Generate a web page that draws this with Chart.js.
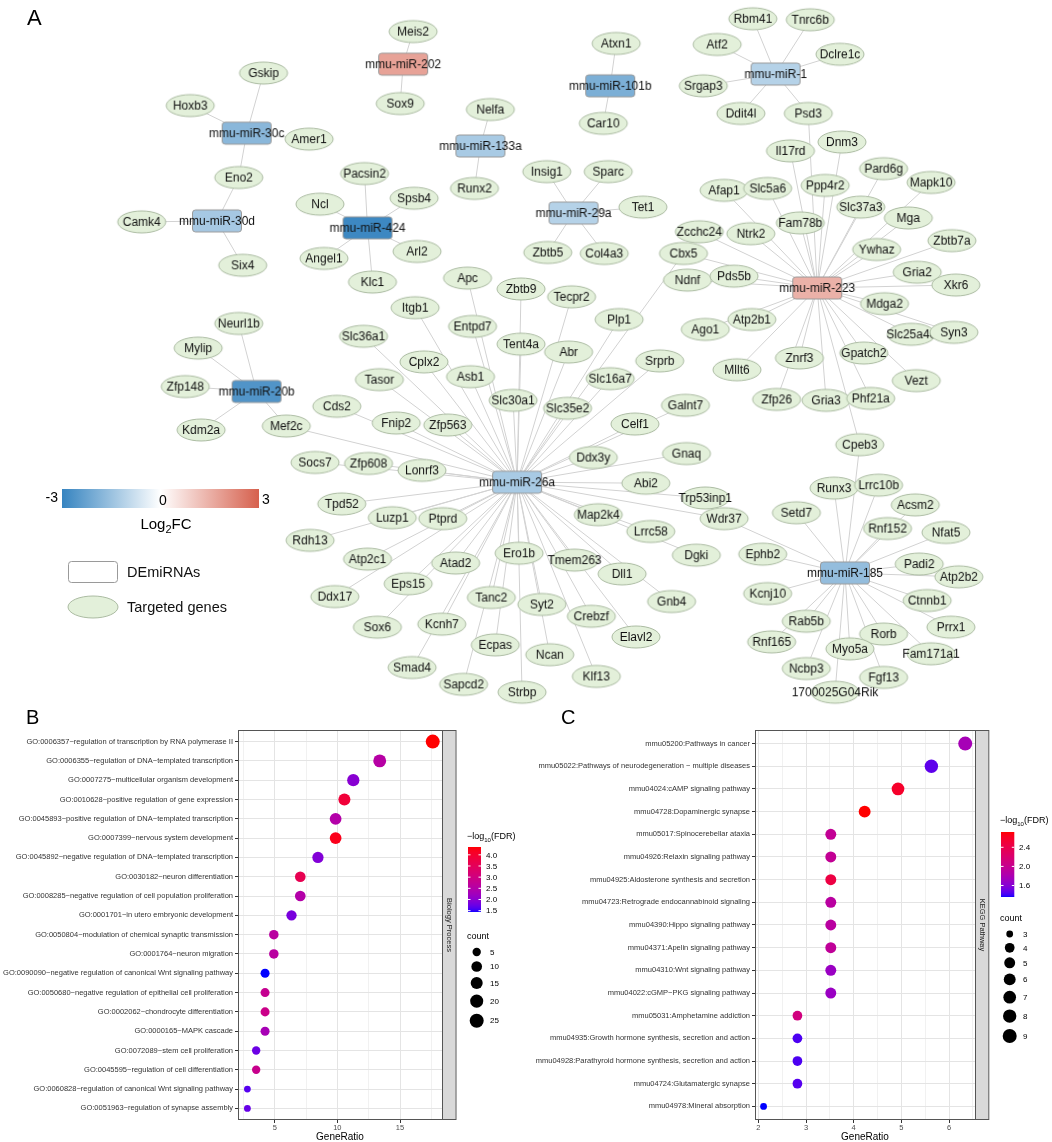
<!DOCTYPE html>
<html>
<head>
<meta charset="utf-8">
<script src="https://cdn.jsdelivr.net/npm/chart.js@4.4.0/dist/chart.umd.min.js"></script>
<style>
  html, body { margin: 0; padding: 0; background: #fff; }
  #wrap { position: relative; width: 1052px; height: 1142px; overflow: hidden; }
  .box { position: absolute; }
</style>
</head>
<body>
<div id="wrap">
  <div class="box" style="left:0;top:0;width:1052px;height:712px"><canvas id="net-chart"></canvas></div>
  <div class="box" style="left:0;top:700px;width:530px;height:442px"><canvas id="bp-chart"></canvas></div>
  <div class="box" style="left:530px;top:700px;width:522px;height:442px"><canvas id="kegg-chart"></canvas></div>
</div>
<script>
'use strict';

// ---- panel A : miRNA - target network ----
var mirnaNames = ['mmu-miR-202', 'mmu-miR-30c', 'mmu-miR-30d', 'mmu-miR-101b', 'mmu-miR-1', 'mmu-miR-133a',
  'mmu-miR-424', 'mmu-miR-29a', 'mmu-miR-223', 'mmu-miR-20b', 'mmu-miR-26a', 'mmu-miR-185'];
var mirnaLog2FC = [1.75, -1.75, -1.33, -1.96, -1.1, -1.3, -2.9, -1.1, 1.47, -2.6, -1.3, -1.6];
// layout units of the network drawing
var mirnaLayout = [[402, 60], [244, 130], [214, 219], [611, 82], [778, 70], [480, 143],
  [366, 226], [574, 211], [820, 287], [254, 392], [517, 484], [848, 576]];
var mirnaTargets = [
  ['Meis2', 'Sox9'],
  ['Gskip', 'Hoxb3', 'Amer1', 'Eno2'],
  ['Eno2', 'Camk4', 'Six4'],
  ['Atxn1', 'Car10'],
  ['Rbm41', 'Tnrc6b', 'Atf2', 'Dclre1c', 'Srgap3', 'Ddit4l', 'Psd3'],
  ['Nelfa', 'Runx2'],
  ['Pacsin2', 'Ncl', 'Spsb4', 'Angel1', 'Arl2', 'Klc1'],
  ['Insig1', 'Sparc', 'Tet1', 'Zbtb5', 'Col4a3'],
  ['Psd3', 'Il17rd', 'Dnm3', 'Pard6g', 'Mapk10', 'Afap1', 'Slc5a6', 'Ppp4r2', 'Slc37a3', 'Mga', 'Fam78b',
   'Zcchc24', 'Ntrk2', 'Zbtb7a', 'Cbx5', 'Ywhaz', 'Gria2', 'Xkr6', 'Ndnf', 'Pds5b', 'Mdga2', 'Ago1',
   'Atp2b1', 'Slc25a46', 'Syn3', 'Mllt6', 'Znrf3', 'Gpatch2', 'Vezt', 'Zfp26', 'Gria3', 'Phf21a', 'Cpeb3'],
  ['Neurl1b', 'Mylip', 'Zfp148', 'Kdm2a', 'Mef2c'],
  ['Apc', 'Zbtb9', 'Itgb1', 'Entpd7', 'Tecpr2', 'Plp1', 'Cbx5', 'Slc36a1', 'Tent4a', 'Abr', 'Cplx2', 'Asb1',
   'Tasor', 'Srprb', 'Slc16a7', 'Slc30a1', 'Slc35e2', 'Cds2', 'Fnip2', 'Zfp563', 'Mef2c', 'Galnt7', 'Celf1',
   'Socs7', 'Zfp608', 'Lonrf3', 'Ddx3y', 'Gnaq', 'Abi2', 'Trp53inp1', 'Tpd52', 'Luzp1', 'Ptprd', 'Map2k4',
   'Wdr37', 'Lrrc58', 'Dgki', 'Rdh13', 'Atp2c1', 'Atad2', 'Ero1b', 'Tmem263', 'Dll1', 'Gnb4', 'Eps15',
   'Ddx17', 'Tanc2', 'Syt2', 'Sox6', 'Kcnh7', 'Crebzf', 'Ecpas', 'Elavl2', 'Ncan', 'Smad4', 'Sapcd2',
   'Klf13', 'Strbp'],
  ['Cpeb3', 'Runx3', 'Lrrc10b', 'Acsm2', 'Setd7', 'Rnf152', 'Nfat5', 'Wdr37', 'Ephb2', 'Padi2', 'Atp2b2',
   'Kcnj10', 'Ctnnb1', 'Rab5b', 'Prrx1', 'Rnf165', 'Rorb', 'Myo5a', 'Fam171a1', 'Ncbp3', 'Fgf13',
   '1700025G04Rik']
];
var geneNames = ['Meis2', 'Sox9', 'Gskip', 'Hoxb3', 'Amer1', 'Eno2', 'Camk4', 'Six4', 'Atxn1', 'Car10',
  'Rbm41', 'Tnrc6b', 'Atf2', 'Dclre1c', 'Srgap3', 'Ddit4l', 'Psd3', 'Nelfa', 'Runx2', 'Pacsin2', 'Ncl',
  'Spsb4', 'Angel1', 'Arl2', 'Klc1', 'Insig1', 'Sparc', 'Tet1', 'Zbtb5', 'Col4a3', 'Il17rd', 'Dnm3',
  'Pard6g', 'Mapk10', 'Afap1', 'Slc5a6', 'Ppp4r2', 'Slc37a3', 'Mga', 'Fam78b', 'Zcchc24', 'Ntrk2',
  'Zbtb7a', 'Cbx5', 'Ywhaz', 'Gria2', 'Xkr6', 'Ndnf', 'Pds5b', 'Mdga2', 'Ago1', 'Atp2b1', 'Slc25a46',
  'Syn3', 'Mllt6', 'Znrf3', 'Gpatch2', 'Vezt', 'Zfp26', 'Gria3', 'Phf21a', 'Cpeb3', 'Neurl1b', 'Mylip',
  'Zfp148', 'Kdm2a', 'Mef2c', 'Apc', 'Zbtb9', 'Itgb1', 'Entpd7', 'Tecpr2', 'Plp1', 'Slc36a1', 'Tent4a',
  'Abr', 'Cplx2', 'Asb1', 'Tasor', 'Srprb', 'Slc16a7', 'Slc30a1', 'Slc35e2', 'Cds2', 'Fnip2', 'Zfp563',
  'Galnt7', 'Celf1', 'Socs7', 'Zfp608', 'Lonrf3', 'Ddx3y', 'Gnaq', 'Abi2', 'Trp53inp1', 'Tpd52', 'Luzp1',
  'Ptprd', 'Map2k4', 'Wdr37', 'Lrrc58', 'Dgki', 'Rdh13', 'Atp2c1', 'Atad2', 'Ero1b', 'Tmem263', 'Dll1',
  'Gnb4', 'Eps15', 'Ddx17', 'Tanc2', 'Syt2', 'Sox6', 'Kcnh7', 'Crebzf', 'Ecpas', 'Elavl2', 'Ncan', 'Smad4',
  'Sapcd2', 'Klf13', 'Strbp', 'Runx3', 'Lrrc10b', 'Acsm2', 'Setd7', 'Rnf152', 'Nfat5', 'Ephb2', 'Padi2',
  'Atp2b2', 'Kcnj10', 'Ctnnb1', 'Rab5b', 'Prrx1', 'Rorb', 'Rnf165', 'Myo5a', 'Fam171a1', 'Ncbp3', 'Fgf13',
  '1700025G04Rik'];
var geneLayout = [[412, 27], [399, 100], [261, 69], [187, 102], [307, 136], [236, 175], [138, 220],
  [240, 264], [617, 39], [604, 120], [755, 14], [813, 15], [719, 40], [843, 50], [705, 82], [743, 110],
  [811, 110], [490, 106], [474, 186], [363, 171], [318, 202], [413, 196], [322, 257], [416, 250],
  [371, 281], [547, 169], [609, 169], [644, 205], [548, 251], [605, 252], [793, 148], [845, 139],
  [887, 166], [935, 180], [726, 188], [770, 186], [828, 183], [864, 205], [912, 216], [803, 221],
  [701, 230], [753, 232], [956, 239], [685, 252], [880, 248], [921, 271], [960, 284], [689, 279],
  [736, 275], [888, 303], [707, 329], [754, 319], [915, 334], [958, 332], [739, 370], [802, 358],
  [867, 353], [920, 381], [779, 400], [829, 401], [874, 399], [863, 446], [236, 323], [195, 348],
  [182, 387], [198, 431], [284, 427], [467, 277], [521, 288], [414, 307], [472, 326], [572, 296],
  [620, 319], [362, 336], [521, 344], [569, 352], [423, 362], [470, 377], [378, 380], [661, 361],
  [611, 379], [513, 401], [568, 409], [335, 407], [395, 424], [447, 426], [687, 406], [636, 425],
  [313, 464], [367, 465], [421, 472], [594, 459], [688, 455], [647, 485], [707, 500], [340, 506],
  [391, 520], [442, 521], [599, 517], [726, 521], [652, 534], [698, 558], [308, 543], [366, 562],
  [455, 566], [519, 556], [575, 563], [623, 577], [673, 605], [407, 587], [333, 600], [491, 601],
  [542, 608], [376, 631], [441, 628], [592, 620], [495, 649], [637, 641], [550, 659], [411, 672],
  [463, 689], [597, 681], [522, 697], [837, 490], [882, 487], [919, 507], [799, 515], [891, 531],
  [950, 535], [765, 557], [923, 567], [963, 580], [770, 597], [931, 604], [809, 625], [955, 631],
  [887, 638], [774, 646], [853, 653], [935, 658], [809, 673], [887, 682], [838, 697]];

// ---- panel B : GO biological process ----
var bpTerms = [
  'GO:0006357~regulation of transcription by RNA polymerase II',
  'GO:0006355~regulation of DNA\u2212templated transcription',
  'GO:0007275~multicellular organism development',
  'GO:0010628~positive regulation of gene expression',
  'GO:0045893~positive regulation of DNA\u2212templated transcription',
  'GO:0007399~nervous system development',
  'GO:0045892~negative regulation of DNA\u2212templated transcription',
  'GO:0030182~neuron differentiation',
  'GO:0008285~negative regulation of cell population proliferation',
  'GO:0001701~in utero embryonic development',
  'GO:0050804~modulation of chemical synaptic transmission',
  'GO:0001764~neuron migration',
  'GO:0090090~negative regulation of canonical Wnt signaling pathway',
  'GO:0050680~negative regulation of epithelial cell proliferation',
  'GO:0002062~chondrocyte differentiation',
  'GO:0000165~MAPK cascade',
  'GO:0072089~stem cell proliferation',
  'GO:0045595~regulation of cell differentiation',
  'GO:0060828~regulation of canonical Wnt signaling pathway',
  'GO:0051963~regulation of synapse assembly'
];
var bpRatio = [17.61, 13.38, 11.27, 10.56, 9.86, 9.86, 8.45, 7.04, 7.04, 6.34, 4.93, 4.93, 4.23, 4.23,
  4.23, 4.23, 3.52, 3.52, 2.82, 2.82];
var bpCount = [25, 19, 16, 15, 14, 14, 12, 10, 10, 9, 7, 7, 6, 6, 6, 6, 5, 5, 4, 4];
var bpFdr = [4.35, 2.55, 1.98, 3.9, 2.5, 4.2, 1.92, 3.6, 2.5, 1.85, 2.6, 2.6, 1.44, 2.8, 2.9, 2.33, 1.75,
  2.85, 1.63, 1.72];
var bpXTicks = [5, 10, 15];
var bpFdrBreaks = [1.5, 2.0, 2.5, 3.0, 3.5, 4.0];
var bpCountBreaks = [5, 10, 15, 20, 25];

// ---- panel C : KEGG pathways ----
var keggTerms = [
  'mmu05200:Pathways in cancer',
  'mmu05022:Pathways of neurodegeneration \u2212 multiple diseases',
  'mmu04024:cAMP signaling pathway',
  'mmu04728:Dopaminergic synapse',
  'mmu05017:Spinocerebellar ataxia',
  'mmu04926:Relaxin signaling pathway',
  'mmu04925:Aldosterone synthesis and secretion',
  'mmu04723:Retrograde endocannabinoid signaling',
  'mmu04390:Hippo signaling pathway',
  'mmu04371:Apelin signaling pathway',
  'mmu04310:Wnt signaling pathway',
  'mmu04022:cGMP\u2212PKG signaling pathway',
  'mmu05031:Amphetamine addiction',
  'mmu04935:Growth hormone synthesis, secretion and action',
  'mmu04928:Parathyroid hormone synthesis, secretion and action',
  'mmu04724:Glutamatergic synapse',
  'mmu04978:Mineral absorption'
];
var keggRatio = [6.34, 5.63, 4.93, 4.23, 3.52, 3.52, 3.52, 3.52, 3.52, 3.52, 3.52, 3.52, 2.82, 2.82, 2.82,
  2.82, 2.11];
var keggCount = [9, 8, 7, 6, 5, 5, 5, 5, 5, 5, 5, 5, 4, 4, 4, 4, 3];
var keggFdr = [1.77, 1.47, 2.58, 2.72, 1.97, 1.97, 2.45, 1.9, 1.9, 1.95, 1.7, 1.7, 2.1, 1.43, 1.43, 1.45,
  1.36];
var keggXTicks = [2, 3, 4, 5, 6];
var keggFdrBreaks = [1.6, 2.0, 2.4];
var keggCountBreaks = [3, 4, 5, 6, 7, 8, 9];

var FONT = "'Liberation Sans', Arial, Helvetica, sans-serif";
Chart.defaults.font.family = FONT;

// colour helpers
function toLab(c) {
  function lin(v) { v /= 255; return v <= 0.04045 ? v / 12.92 : Math.pow((v + 0.055) / 1.055, 2.4); }
  var R = lin(c[0]), G = lin(c[1]), B = lin(c[2]);
  var X = (0.4124 * R + 0.3576 * G + 0.1805 * B) / 0.95047;
  var Y = 0.2126 * R + 0.7152 * G + 0.0722 * B;
  var Z = (0.0193 * R + 0.1192 * G + 0.9505 * B) / 1.08883;
  function f(t) { return t > 0.008856 ? Math.cbrt(t) : 7.787 * t + 16 / 116; }
  return [116 * f(Y) - 16, 500 * (f(X) - f(Y)), 200 * (f(Y) - f(Z))];
}
function fromLab(l) {
  var fy = (l[0] + 16) / 116, fx = fy + l[1] / 500, fz = fy - l[2] / 200;
  function inv(t) { var t3 = t * t * t; return t3 > 0.008856 ? t3 : (t - 16 / 116) / 7.787; }
  var X = inv(fx) * 0.95047, Y = inv(fy), Z = inv(fz) * 1.08883;
  var R = 3.2406 * X - 1.5372 * Y - 0.4986 * Z;
  var G = -0.9689 * X + 1.8758 * Y + 0.0415 * Z;
  var B = 0.0557 * X - 0.2040 * Y + 1.0570 * Z;
  function gam(v) {
    v = v <= 0.0031308 ? 12.92 * v : 1.055 * Math.pow(v, 1 / 2.4) - 0.055;
    return Math.round(Math.max(0, Math.min(1, v)) * 255);
  }
  return 'rgb(' + gam(R) + ',' + gam(G) + ',' + gam(B) + ')';
}
var LAB_BLUE = toLab([0, 0, 255]), LAB_RED = toLab([255, 0, 0]);
function fdrColour(v, lo, hi) {
  var t = Math.max(0, Math.min(1, (v - lo) / (hi - lo)));
  return fromLab([0, 1, 2].map(function(k) { return LAB_BLUE[k] + (LAB_RED[k] - LAB_BLUE[k]) * t; }));
}

var FC_BLUE = [54, 132, 192], FC_RED = [214, 96, 77];
function fcColour(v) {
  var t = Math.min(1, Math.abs(v) / 3), end = v < 0 ? FC_BLUE : FC_RED;
  var c = end.map(function(e) { return Math.round(255 + (e - 255) * t); });
  return 'rgb(' + c.join(',') + ')';
}

// ---------- network ----------
var NODE_FONT = '12px ' + FONT;
var GENE_FILL = '#e3f0da', GENE_LINE = '#abbba2';

function makeBadge(text, kind, fill) {
  var c = document.createElement('canvas');
  var g = c.getContext('2d');
  g.font = NODE_FONT;
  var w = Math.ceil(Math.max(54, g.measureText(text).width + 4));
  if (w % 2) w++;
  c.width = w;
  c.height = 26;
  g = c.getContext('2d');
  g.lineWidth = 1;
  g.beginPath();
  if (kind === 'gene') {
    g.ellipse(w / 2, 13, 24, 11, 0, 0, Math.PI * 2);
    g.fillStyle = GENE_FILL;
    g.strokeStyle = GENE_LINE;
  } else {
    g.roundRect(w / 2 - 24.5, 2, 49, 22, 3);
    g.fillStyle = fill;
    g.strokeStyle = '#9a9a9a';
  }
  g.fill();
  g.stroke();
  g.font = NODE_FONT;
  g.fillStyle = '#111';
  g.textAlign = 'center';
  g.textBaseline = 'middle';
  g.fillText(text, w / 2, 13.5);
  return c;
}

var geneIndex = {};
geneNames.forEach(function(n, i) { geneIndex[n] = i; });

var netDatasets = [];
netDatasets.push({
  label: 'DEmiRNAs',
  data: mirnaLayout.map(function(p) { return { x: p[0], y: p[1] }; }),
  pointStyle: mirnaNames.map(function(n, i) { return makeBadge(n, 'mirna', fcColour(mirnaLog2FC[i])); }),
  pointRadius: 1,
  order: 0
});
netDatasets.push({
  label: 'Targeted genes',
  data: geneLayout.map(function(p) { return { x: p[0], y: p[1] }; }),
  pointStyle: geneNames.map(function(n) { return makeBadge(n, 'gene'); }),
  pointRadius: 1,
  order: 1
});
mirnaTargets.forEach(function(list, m) {
  list.forEach(function(gene) {
    var p = geneLayout[geneIndex[gene]];
    netDatasets.push({
      data: [{ x: mirnaLayout[m][0], y: mirnaLayout[m][1] }, { x: p[0], y: p[1] }],
      showLine: true,
      borderColor: '#d2d2d2',
      borderWidth: 1,
      pointRadius: 0,
      order: 2
    });
  });
});

var netLegendPlugin = {
  id: 'netLegend',
  afterDraw: function(chart) {
    var ctx = chart.ctx;
    ctx.save();
    ctx.fillStyle = '#000';
    ctx.font = '22px ' + FONT;
    ctx.textAlign = 'left';
    ctx.textBaseline = 'middle';
    ctx.fillText('A', 27, 19);

    // log2FC colour bar
    var x0 = 62, x1 = 259, y0 = 489, h = 19;
    var grad = ctx.createLinearGradient(x0, 0, x1, 0);
    grad.addColorStop(0, fcColour(-3));
    grad.addColorStop(0.5, '#ffffff');
    grad.addColorStop(1, fcColour(3));
    ctx.fillStyle = grad;
    ctx.fillRect(x0, y0, x1 - x0, h);
    ctx.fillStyle = '#000';
    ctx.font = '14px ' + FONT;
    ctx.textAlign = 'right';
    ctx.fillText('-3', x0 - 4, y0 + 9);
    ctx.textAlign = 'center';
    ctx.fillText('0', 163, y0 + 12);
    ctx.textAlign = 'left';
    ctx.fillText('3', x1 + 3, y0 + 11);
    ctx.font = '15px ' + FONT;
    var w1 = ctx.measureText('Log').width, w3 = ctx.measureText('FC').width;
    ctx.font = '11px ' + FONT;
    var w2 = ctx.measureText('2').width;
    var sx = 166 - (w1 + w2 + w3) / 2;
    ctx.font = '15px ' + FONT;
    ctx.fillText('Log', sx, 525);
    ctx.fillText('FC', sx + w1 + w2, 525);
    ctx.font = '11px ' + FONT;
    ctx.fillText('2', sx + w1, 530);

    // node shape legend
    ctx.lineWidth = 1;
    ctx.strokeStyle = '#9a9a9a';
    ctx.fillStyle = '#fff';
    ctx.beginPath();
    ctx.roundRect(68.5, 561.5, 49, 21, 3);
    ctx.fill();
    ctx.stroke();
    ctx.beginPath();
    ctx.ellipse(93, 607, 25, 11, 0, 0, Math.PI * 2);
    ctx.fillStyle = GENE_FILL;
    ctx.strokeStyle = GENE_LINE;
    ctx.fill();
    ctx.stroke();
    ctx.fillStyle = '#111';
    ctx.font = '14.5px ' + FONT;
    ctx.fillText('DEmiRNAs', 127, 573);
    ctx.fillText('Targeted genes', 127, 608);
    ctx.restore();
  }
};

new Chart(document.getElementById('net-chart'), {
  type: 'scatter',
  data: { datasets: netDatasets },
  options: {
    responsive: true,
    maintainAspectRatio: false,
    animation: false,
    devicePixelRatio: 1,
    events: [],
    layout: { padding: 0 },
    plugins: { legend: { display: false }, tooltip: { enabled: false } },
    scales: {
      x: { type: 'linear', min: 0, max: 1052, display: false },
      y: { type: 'linear', min: 0, max: 712, reverse: true, display: false }
    }
  },
  plugins: [netLegendPlugin]
});

// ---------- dot plots ----------
function keyRadius(c, lo, hi) {
  var size = 1 + 5 * Math.sqrt((c - lo) / (hi - lo));
  return 2.68 + 0.72 * size;
}

function dotPlot(id, cfg) {
  var n = cfg.terms.length;
  var lo = Math.min.apply(null, cfg.fdr), hi = Math.max.apply(null, cfg.fdr);
  var cLo = Math.min.apply(null, cfg.count), cHi = Math.max.apply(null, cfg.count);
  var majorStep = cfg.xTicks[1] - cfg.xTicks[0];
  function isMajor(v) { return Math.abs(v / majorStep - Math.round(v / majorStep)) < 1e-6; }

  var framePlugin = {
    id: 'frame',
    afterDraw: function(chart) {
      var ctx = chart.ctx, a = chart.chartArea;
      ctx.save();
      ctx.fillStyle = '#000';
      ctx.font = '20px ' + FONT;
      ctx.textAlign = 'left';
      ctx.textBaseline = 'middle';
      ctx.fillText(cfg.letter, cfg.letterX, cfg.letterY);

      // panel border and facet strip
      ctx.strokeStyle = '#555';
      ctx.lineWidth = 1;
      ctx.fillStyle = '#d9d9d9';
      ctx.fillRect(a.right, a.top, cfg.stripW, a.bottom - a.top);
      ctx.strokeRect(a.right + 0.5, a.top + 0.5, cfg.stripW, a.bottom - a.top - 1);
      ctx.strokeRect(a.left + 0.5, a.top + 0.5, a.right - a.left, a.bottom - a.top - 1);
      ctx.save();
      ctx.translate(a.right + cfg.stripW / 2 + 0.5, (a.top + a.bottom) / 2);
      ctx.rotate(Math.PI / 2);
      ctx.fillStyle = '#1a1a1a';
      ctx.font = '7.5px ' + FONT;
      ctx.textAlign = 'center';
      ctx.fillText(cfg.strip, 0, 0);
      ctx.restore();

      // colour bar legend
      var L = cfg.legend;
      ctx.fillStyle = '#000';
      ctx.font = '9px ' + FONT;
      ctx.textAlign = 'left';
      var tx = L.barX - 1;
      ctx.fillText('\u2212log', tx, L.titleY);
      tx += ctx.measureText('\u2212log').width;
      ctx.font = '6px ' + FONT;
      ctx.fillText('10', tx, L.titleY + 3);
      tx += ctx.measureText('10').width;
      ctx.font = '9px ' + FONT;
      ctx.fillText('(FDR)', tx, L.titleY);
      for (var k = 0; k < L.barH; k++) {
        ctx.fillStyle = fdrColour(hi - (hi - lo) * (k + 0.5) / L.barH, lo, hi);
        ctx.fillRect(L.barX, L.barY + k, L.barW, 1);
      }
      ctx.font = '8px ' + FONT;
      cfg.fdrBreaks.forEach(function(b) {
        var y = L.barY + L.barH - (b - lo) / (hi - lo) * L.barH;
        ctx.strokeStyle = '#fff';
        ctx.beginPath();
        ctx.moveTo(L.barX, y); ctx.lineTo(L.barX + 2.5, y);
        ctx.moveTo(L.barX + L.barW - 2.5, y); ctx.lineTo(L.barX + L.barW, y);
        ctx.stroke();
        ctx.fillStyle = '#000';
        ctx.fillText(b.toFixed(1), L.barX + 18, y + 0.5);
      });

      // size legend
      ctx.font = '9px ' + FONT;
      ctx.fillText('count', L.barX - 1, L.countY);
      var y = L.keyY, prevH = null;
      cfg.countBreaks.forEach(function(c) {
        var r = keyRadius(c, cLo, cHi);
        var hgt = Math.max(13.5, 2 * r * 1.45);
        if (prevH !== null) y += (prevH + hgt) / 2;
        prevH = hgt;
        ctx.fillStyle = '#000';
        ctx.beginPath();
        ctx.arc(L.barX + 8.7, y, r, 0, Math.PI * 2);
        ctx.fill();
        ctx.font = '8px ' + FONT;
        ctx.fillText(String(c), L.barX + 22, y + 0.5);
      });
      ctx.restore();
    }
  };

  return new Chart(document.getElementById(id), {
    type: 'scatter',
    data: {
      datasets: [{
        data: cfg.ratio.map(function(v, i) { return { x: v, y: i }; }),
        backgroundColor: cfg.fdr.map(function(v) { return fdrColour(v, lo, hi); }),
        pointRadius: cfg.count.map(function(c) { return keyRadius(c, cLo, cHi); }),
        pointHoverRadius: cfg.count.map(function(c) { return keyRadius(c, cLo, cHi); }),
        borderWidth: 0
      }]
    },
    options: {
      responsive: true,
      maintainAspectRatio: false,
      animation: false,
      devicePixelRatio: 1,
      events: [],
      layout: { padding: { top: cfg.padTop, right: cfg.padRight, left: 0, bottom: 0 } },
      plugins: { legend: { display: false }, tooltip: { enabled: false } },
      scales: {
        x: {
          type: 'linear',
          min: cfg.xMin,
          max: cfg.xMax,
          afterFit: function(s) { s.height = 22; },
          afterBuildTicks: function(s) {
            var t = [];
            for (var v = cfg.xTicks[0] - majorStep * 2; v <= cfg.xMax; v += majorStep / 2) {
              if (v >= cfg.xMin) t.push({ value: Math.round(v * 1000) / 1000 });
            }
            s.ticks = t;
          },
          ticks: {
            autoSkip: false,
            maxRotation: 0,
            padding: 0,
            color: '#4d4d4d',
            font: { size: 7.5 },
            callback: function(v) { return isMajor(v) ? String(v) : ''; }
          },
          grid: {
            color: function(c) { return c.tick && isMajor(c.tick.value) ? '#e4e4e4' : '#f1f1f1'; },
            tickColor: function(c) { return c.tick && isMajor(c.tick.value) ? '#333' : 'rgba(0,0,0,0)'; },
            tickLength: 3
          },
          border: { display: false },
          title: {
            display: true, text: 'GeneRatio', color: '#000',
            font: { size: 10, lineHeight: 1 }, padding: { top: 0, bottom: 0 }
          }
        },
        y: {
          type: 'linear',
          min: -0.6,
          max: n - 0.4,
          reverse: true,
          afterFit: function(s) { s.width = cfg.yAxisW; },
          afterBuildTicks: function(s) {
            s.ticks = cfg.terms.map(function(t, i) { return { value: i }; });
          },
          ticks: {
            autoSkip: false,
            padding: 2,
            color: '#333',
            font: { size: 7.5 },
            callback: function(v) { return cfg.terms[v]; }
          },
          grid: { color: '#e4e4e4', tickColor: '#333', tickLength: 3 },
          border: { display: false }
        }
      }
    },
    plugins: [framePlugin]
  });
}

dotPlot('bp-chart', {
  terms: bpTerms, ratio: bpRatio, count: bpCount, fdr: bpFdr,
  xTicks: bpXTicks, xMin: 2.07, xMax: 18.35,
  fdrBreaks: bpFdrBreaks, countBreaks: bpCountBreaks,
  strip: 'Biology Process', letter: 'B', letterX: 26, letterY: 18,
  yAxisW: 238, padTop: 30, padRight: 88, stripW: 13.5,
  legend: { barX: 468, barY: 147, barW: 13, barH: 65, titleY: 137, countY: 237, keyY: 252 }
});

dotPlot('kegg-chart', {
  terms: keggTerms, ratio: keggRatio, count: keggCount, fdr: keggFdr,
  xTicks: keggXTicks, xMin: 1.93, xMax: 6.545,
  fdrBreaks: keggFdrBreaks, countBreaks: keggCountBreaks,
  strip: 'KEGG Pathway', letter: 'C', letterX: 31, letterY: 18,
  yAxisW: 225, padTop: 30, padRight: 77, stripW: 13.3,
  legend: { barX: 471, barY: 132, barW: 13.3, barH: 65, titleY: 121, countY: 219, keyY: 234 }
});
</script>
</body>
</html>
